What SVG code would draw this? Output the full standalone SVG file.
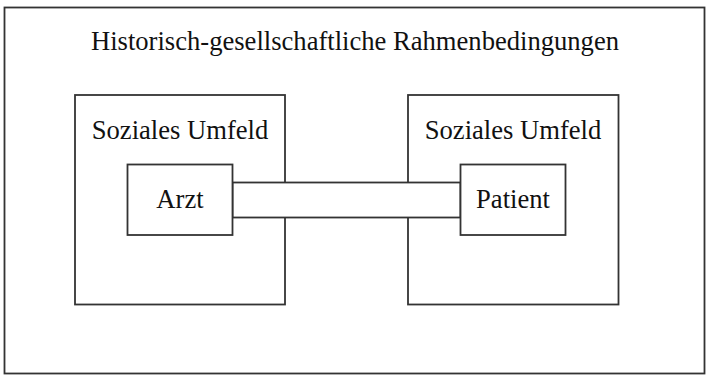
<svg xmlns="http://www.w3.org/2000/svg" width="706" height="375" viewBox="0 0 706 375">
<style>
.box{fill:#fff;stroke:#333;stroke-width:1.8}
.t{font-family:"Liberation Serif","Times New Roman",serif;font-size:26.6px;fill:#111;text-anchor:middle}
</style>
<rect width="706" height="375" fill="#fff"/>
<g id="rahmen">
<rect class="box" x="4.5" y="7.5" width="700" height="366"/>
<text class="t" x="355" y="50">Historisch-gesellschaftliche Rahmenbedingungen</text>
</g>
<g id="umfeld-links">
<rect class="box" x="75" y="95" width="210" height="209.5"/>
<text class="t" x="180" y="138.5">Soziales Umfeld</text>
</g>
<g id="umfeld-rechts">
<rect class="box" x="408" y="95" width="210.5" height="209.5"/>
<text class="t" x="513" y="138.5">Soziales Umfeld</text>
</g>
<g id="connectors">
<rect class="box" x="232.5" y="182.5" width="228" height="35"/>
</g>
<g id="arzt">
<rect class="box" x="127.5" y="164.5" width="105" height="70.5"/>
<text class="t" x="180" y="208">Arzt</text>
</g>
<g id="patient">
<rect class="box" x="460.5" y="164.5" width="105" height="70.5"/>
<text class="t" x="513" y="208">Patient</text>
</g>
</svg>
